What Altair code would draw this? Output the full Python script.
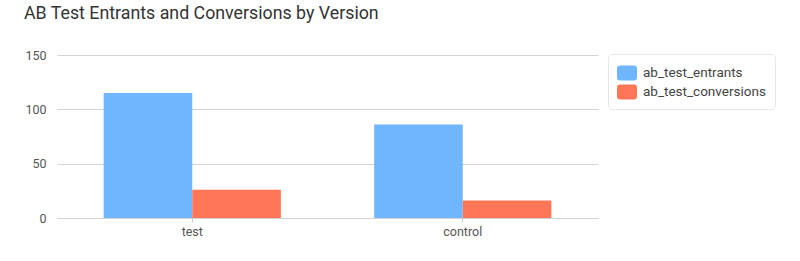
import altair as alt
import pandas as pd

versions = ["test", "control"]
series_names = ["ab_test_entrants", "ab_test_conversions"]
entrants = [115, 86]
conversions = [26, 16]
colors = ["#6FB6FF", "#FF7657"]

rows = []
for i, v in enumerate(versions):
    rows.append({"version": v, "series": series_names[0], "value": entrants[i]})
    rows.append({"version": v, "series": series_names[1], "value": conversions[i]})
df = pd.DataFrame(rows)

FONT = "Roboto"
rounded = "M-0.7,-0.75 H0.7 Q1,-0.75 1,-0.45 V0.45 Q1,0.75 0.7,0.75 H-0.7 Q-1,0.75 -1,0.45 V-0.45 Q-1,-0.75 -0.7,-0.75 Z"

chart = alt.Chart(df).mark_bar().encode(
    x=alt.X("version:N", sort=versions, title=None,
            scale=alt.Scale(paddingInner=0.345, paddingOuter=0.1725),
            axis=alt.Axis(labelAngle=0, domain=False, ticks=True, tickSize=4,
                          tickColor="#cccccc", labelColor="#555555", labelFontSize=12.5,
                          labelPadding=3, labelFont=FONT, grid=False)),
    xOffset=alt.XOffset("series:N", sort=series_names,
                        scale=alt.Scale(paddingInner=0, paddingOuter=0)),
    y=alt.Y("value:Q", title=None,
            scale=alt.Scale(domain=[0, 150]),
            axis=alt.Axis(values=[0, 50, 100, 150], domain=False, ticks=False,
                          gridColor="#d3d3d3", gridWidth=1.2, labelColor="#555555",
                          labelFontSize=12.5, labelPadding=11, labelFont=FONT)),
    color=alt.Color("series:N", sort=series_names,
                    scale=alt.Scale(domain=series_names, range=colors),
                    legend=alt.Legend(title=None, orient="none", legendX=551, legendY=-1,
                                      symbolType=rounded, symbolSize=400,
                                      symbolStrokeWidth=0, labelFontSize=13.5,
                                      labelColor="#444444", labelFont=FONT,
                                      labelOffset=6, rowPadding=1, padding=9,
                                      strokeColor="#e8e8e8", cornerRadius=4,
                                      fillColor="#ffffff")),
).properties(
    width=541,
    height=163,
    title=alt.TitleParams("AB Test Entrants and Conversions by Version",
                          anchor="start", frame="group", dx=-33, offset=26,
                          fontSize=17.8, fontWeight="normal", color="#333333", font=FONT),
    autosize=alt.AutoSizeParams(type="none"),
    padding={"left": 57, "top": 55, "right": 202, "bottom": 43},
).configure_view(stroke=None)

chart.save("out.html", embed_options={"renderer": "svg", "actions": False})
